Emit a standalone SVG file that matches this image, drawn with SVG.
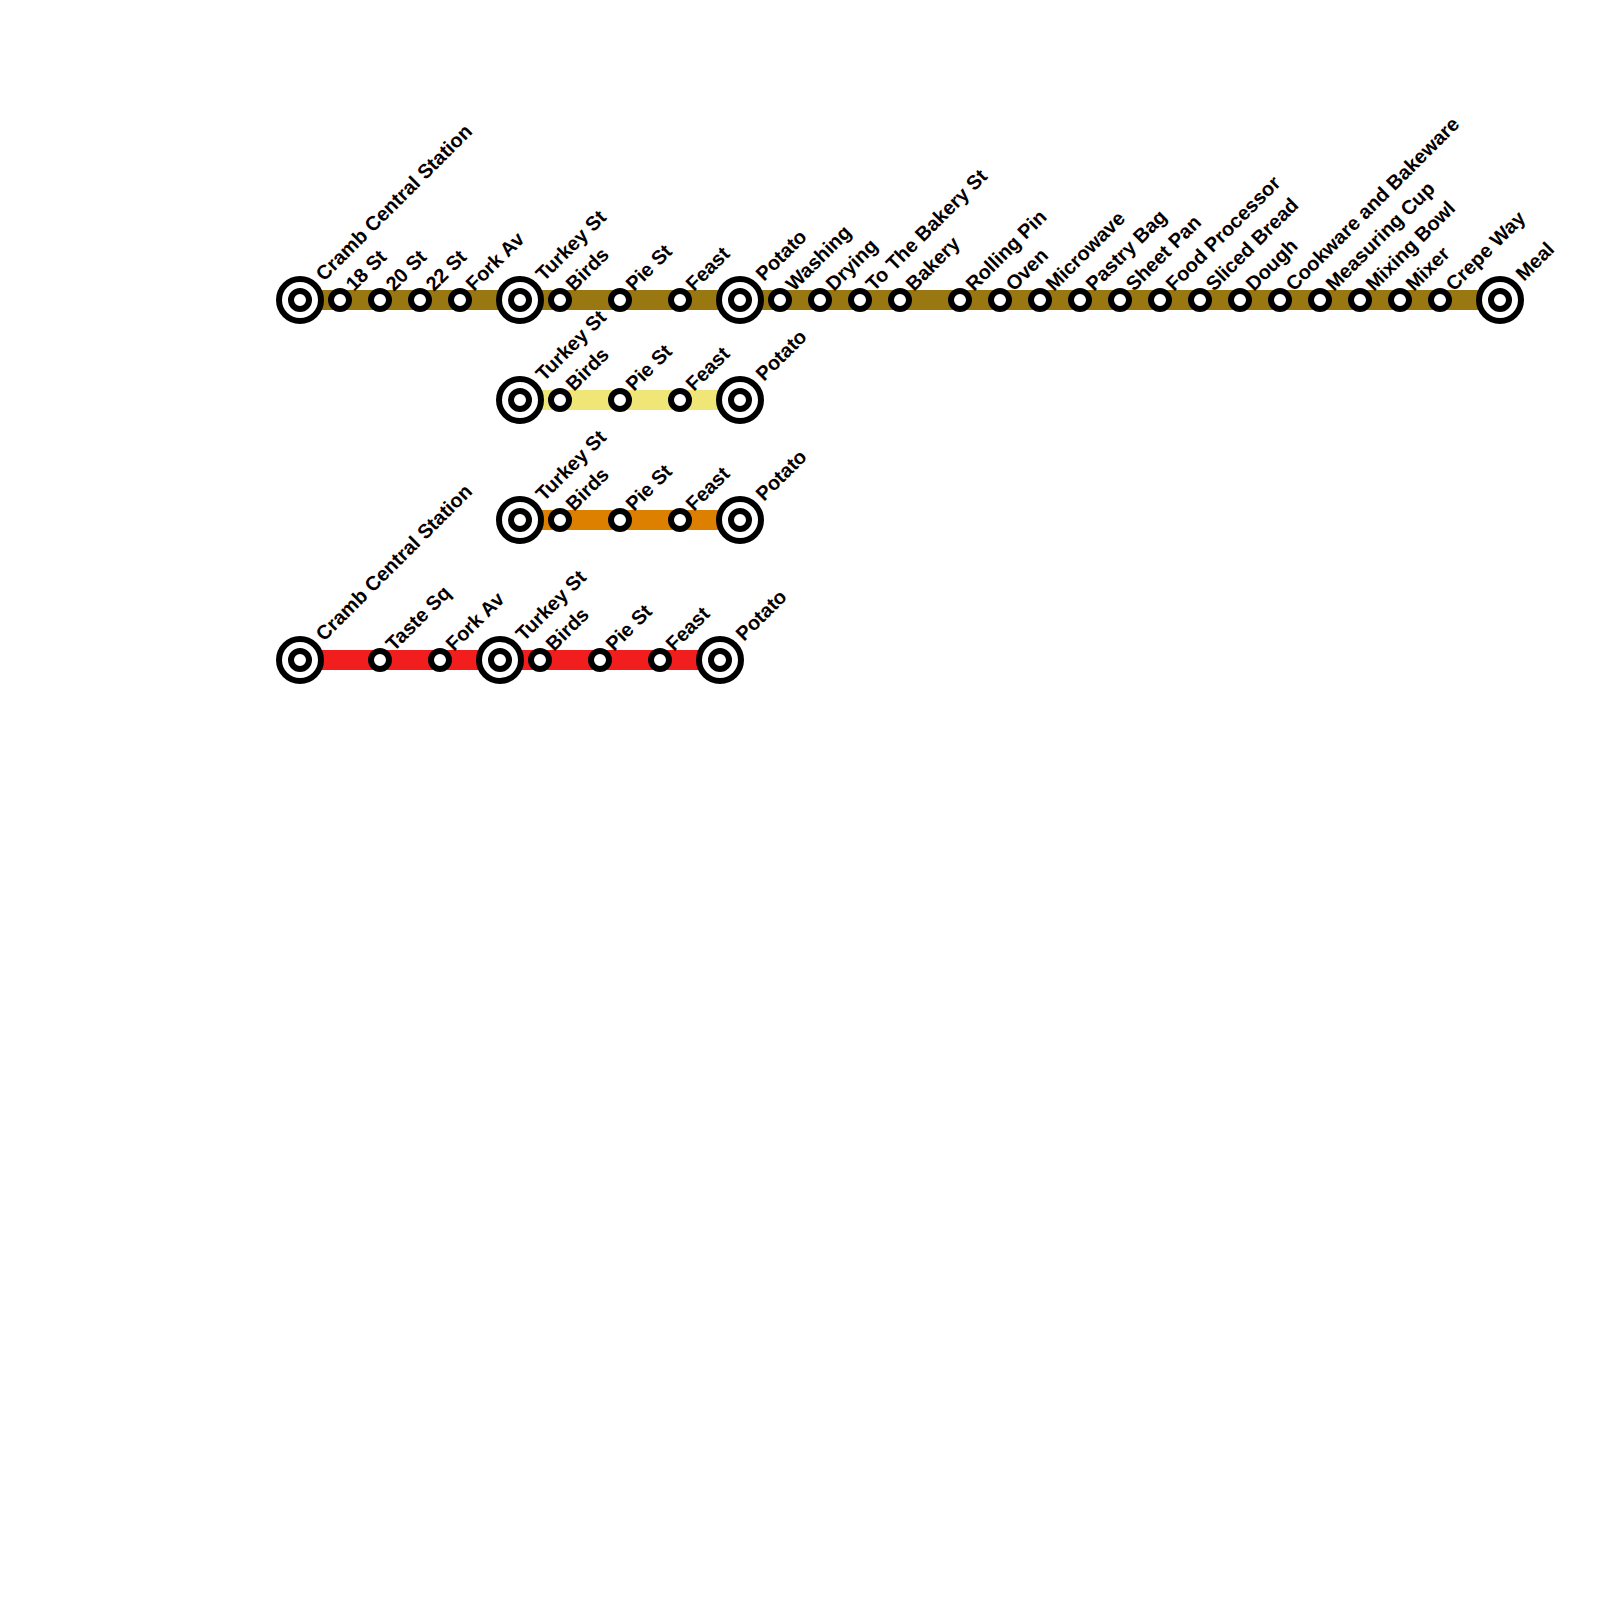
<svg xmlns="http://www.w3.org/2000/svg" width="1600" height="1600" viewBox="0 0 1600 1600">
<style>
.l{stroke-width:20;fill:none}
circle{fill:#fff;stroke:#000;stroke-width:6}
text{font-family:"Liberation Sans",Arial,sans-serif;font-weight:bold;font-size:20px;fill:#000;text-rendering:geometricPrecision}
</style>
<defs>
<g id="st"><circle r="9"/></g>
<g id="tm"><circle r="21"/><circle r="9"/></g>
</defs>
<g id="connectors">
<path class="l" stroke="#997711" d="M300 300H1500"/>
<path class="l" stroke="#f0e678" d="M520 400H740"/>
<path class="l" stroke="#dd8000" d="M520 520H740"/>
<path class="l" stroke="#f21e1e" d="M300 660H720"/>
</g>
<g id="r1-cramb"><use href="#tm" x="300" y="300"/><text transform="translate(324 282) rotate(-45)">Cramb Central Station</text></g>
<g id="r1-18"><use href="#st" x="340" y="300"/><text transform="translate(354 292) rotate(-45)">18 St</text></g>
<g id="r1-20"><use href="#st" x="380" y="300"/><text transform="translate(394 292) rotate(-45)">20 St</text></g>
<g id="r1-22"><use href="#st" x="420" y="300"/><text transform="translate(434 292) rotate(-45)">22 St</text></g>
<g id="r1-fork"><use href="#st" x="460" y="300"/><text transform="translate(474 292) rotate(-45)">Fork Av</text></g>
<g id="r1-turkey"><use href="#tm" x="520" y="300"/><text transform="translate(544 282) rotate(-45)">Turkey St</text></g>
<g id="r1-birds"><use href="#st" x="560" y="300"/><text transform="translate(574 292) rotate(-45)">Birds</text></g>
<g id="r1-pie"><use href="#st" x="620" y="300"/><text transform="translate(634 292) rotate(-45)">Pie St</text></g>
<g id="r1-feast"><use href="#st" x="680" y="300"/><text transform="translate(694 292) rotate(-45)">Feast</text></g>
<g id="r1-potato"><use href="#tm" x="740" y="300"/><text transform="translate(764 282) rotate(-45)">Potato</text></g>
<g id="r1-washing"><use href="#st" x="780" y="300"/><text transform="translate(794 292) rotate(-45)">Washing</text></g>
<g id="r1-drying"><use href="#st" x="820" y="300"/><text transform="translate(834 292) rotate(-45)">Drying</text></g>
<g id="r1-tothebakery"><use href="#st" x="860" y="300"/><text transform="translate(874 292) rotate(-45)">To The Bakery St</text></g>
<g id="r1-bakery"><use href="#st" x="900" y="300"/><text transform="translate(914 292) rotate(-45)">Bakery</text></g>
<g id="r1-rolling"><use href="#st" x="960" y="300"/><text transform="translate(974 292) rotate(-45)">Rolling Pin</text></g>
<g id="r1-oven"><use href="#st" x="1000" y="300"/><text transform="translate(1014 292) rotate(-45)">Oven</text></g>
<g id="r1-microwave"><use href="#st" x="1040" y="300"/><text transform="translate(1054 292) rotate(-45)">Microwave</text></g>
<g id="r1-pastry"><use href="#st" x="1080" y="300"/><text transform="translate(1094 292) rotate(-45)">Pastry Bag</text></g>
<g id="r1-sheet"><use href="#st" x="1120" y="300"/><text transform="translate(1134 292) rotate(-45)">Sheet Pan</text></g>
<g id="r1-food"><use href="#st" x="1160" y="300"/><text transform="translate(1174 292) rotate(-45)">Food Processor</text></g>
<g id="r1-sliced"><use href="#st" x="1200" y="300"/><text transform="translate(1214 292) rotate(-45)">Sliced Bread</text></g>
<g id="r1-dough"><use href="#st" x="1240" y="300"/><text transform="translate(1254 292) rotate(-45)">Dough</text></g>
<g id="r1-cookware"><use href="#st" x="1280" y="300"/><text transform="translate(1294 292) rotate(-45)">Cookware and Bakeware</text></g>
<g id="r1-measuring"><use href="#st" x="1320" y="300"/><text transform="translate(1334 292) rotate(-45)">Measuring Cup</text></g>
<g id="r1-mixing"><use href="#st" x="1360" y="300"/><text transform="translate(1374 292) rotate(-45)">Mixing Bowl</text></g>
<g id="r1-mixer"><use href="#st" x="1400" y="300"/><text transform="translate(1414 292) rotate(-45)">Mixer</text></g>
<g id="r1-crepe"><use href="#st" x="1440" y="300"/><text transform="translate(1454 292) rotate(-45)">Crepe Way</text></g>
<g id="r1-meal"><use href="#tm" x="1500" y="300"/><text transform="translate(1524 282) rotate(-45)">Meal</text></g>
<g id="r2-turkey"><use href="#tm" x="520" y="400"/><text transform="translate(544 382) rotate(-45)">Turkey St</text></g>
<g id="r2-birds"><use href="#st" x="560" y="400"/><text transform="translate(574 392) rotate(-45)">Birds</text></g>
<g id="r2-pie"><use href="#st" x="620" y="400"/><text transform="translate(634 392) rotate(-45)">Pie St</text></g>
<g id="r2-feast"><use href="#st" x="680" y="400"/><text transform="translate(694 392) rotate(-45)">Feast</text></g>
<g id="r2-potato"><use href="#tm" x="740" y="400"/><text transform="translate(764 382) rotate(-45)">Potato</text></g>
<g id="r3-turkey"><use href="#tm" x="520" y="520"/><text transform="translate(544 502) rotate(-45)">Turkey St</text></g>
<g id="r3-birds"><use href="#st" x="560" y="520"/><text transform="translate(574 512) rotate(-45)">Birds</text></g>
<g id="r3-pie"><use href="#st" x="620" y="520"/><text transform="translate(634 512) rotate(-45)">Pie St</text></g>
<g id="r3-feast"><use href="#st" x="680" y="520"/><text transform="translate(694 512) rotate(-45)">Feast</text></g>
<g id="r3-potato"><use href="#tm" x="740" y="520"/><text transform="translate(764 502) rotate(-45)">Potato</text></g>
<g id="r4-cramb"><use href="#tm" x="300" y="660"/><text transform="translate(324 642) rotate(-45)">Cramb Central Station</text></g>
<g id="r4-taste"><use href="#st" x="380" y="660"/><text transform="translate(394 652) rotate(-45)">Taste Sq</text></g>
<g id="r4-fork"><use href="#st" x="440" y="660"/><text transform="translate(454 652) rotate(-45)">Fork Av</text></g>
<g id="r4-turkey"><use href="#tm" x="500" y="660"/><text transform="translate(524 642) rotate(-45)">Turkey St</text></g>
<g id="r4-birds"><use href="#st" x="540" y="660"/><text transform="translate(554 652) rotate(-45)">Birds</text></g>
<g id="r4-pie"><use href="#st" x="600" y="660"/><text transform="translate(614 652) rotate(-45)">Pie St</text></g>
<g id="r4-feast"><use href="#st" x="660" y="660"/><text transform="translate(674 652) rotate(-45)">Feast</text></g>
<g id="r4-potato"><use href="#tm" x="720" y="660"/><text transform="translate(744 642) rotate(-45)">Potato</text></g>
</svg>
